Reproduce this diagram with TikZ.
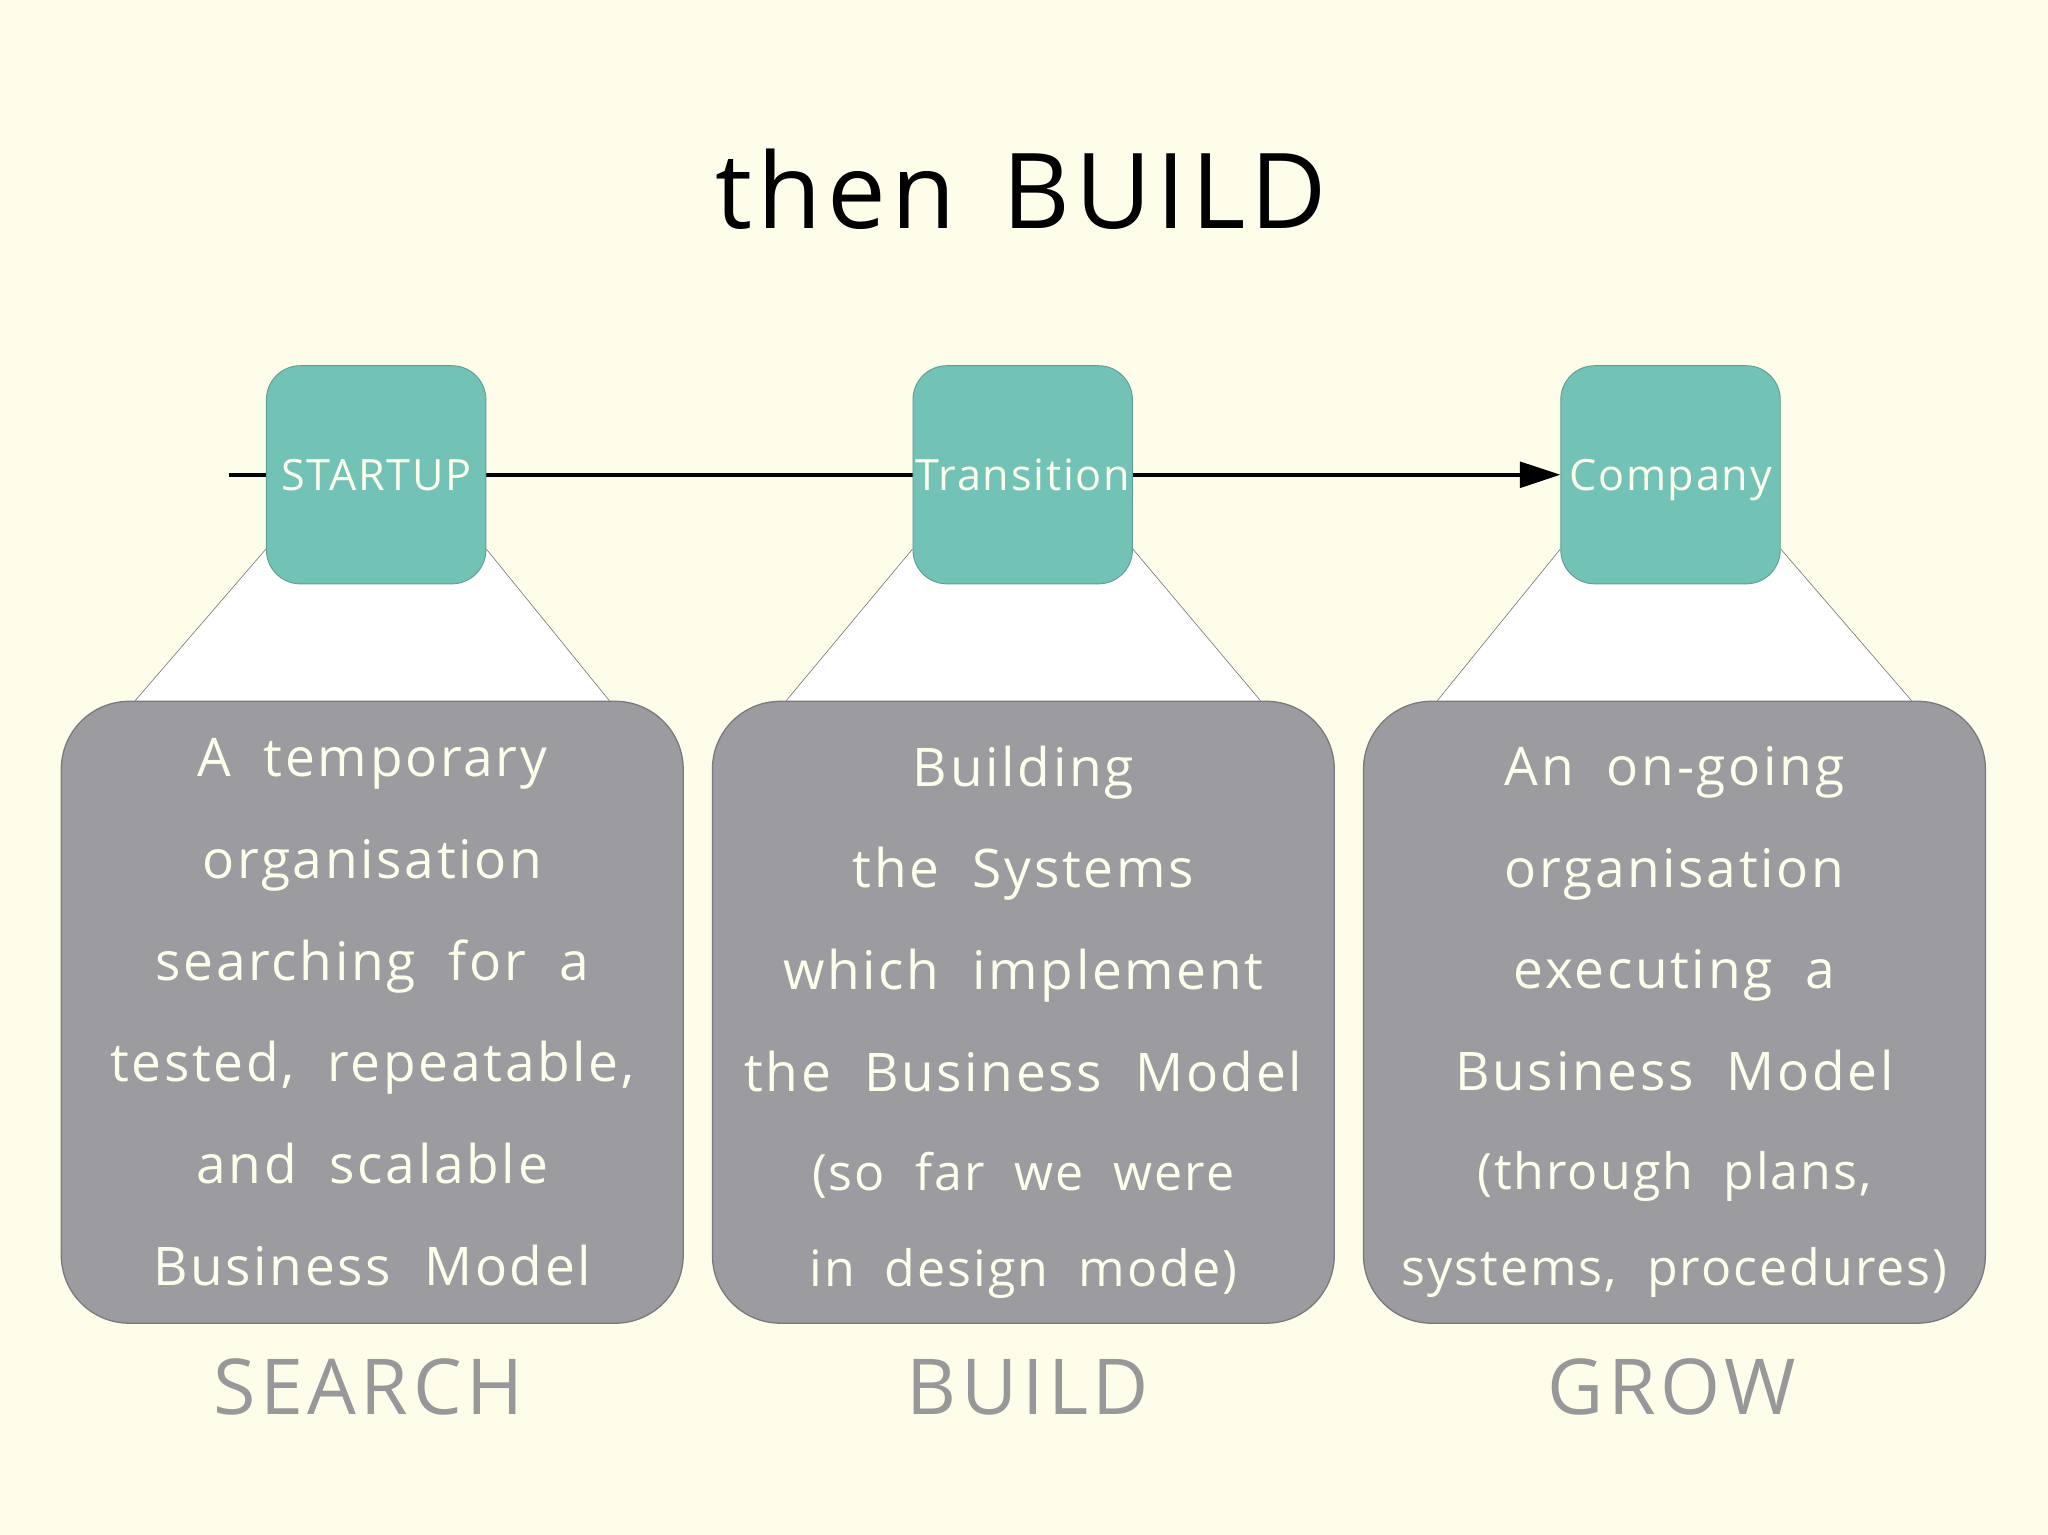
\documentclass[tikz,border=0pt]{standalone}
\usepackage{fontspec}
\setmainfont{Open Sans}[WordSpace=2.0]
\usetikzlibrary{arrows.meta}
\definecolor{bgc}{HTML}{FDFDE9}
\definecolor{tealc}{HTML}{72C3B6}
\definecolor{tealedge}{HTML}{5E9E94}
\definecolor{grayc}{HTML}{9B9BA0}
\definecolor{grayedge}{HTML}{7A7A7E}
\definecolor{txtc}{HTML}{FDFDEB}
\definecolor{lblc}{HTML}{98989B}
\pgfdeclarelayer{back}
\pgfsetlayers{back,main}
\newcommand{\smalline}[1]{{\fontsize{27.3}{55.4}\selectfont\addfontfeatures{LetterSpace=4}#1}}
\tikzset{
  phase/.style={draw=tealedge, line width=0.5pt, fill=tealc, rounded corners=0.65cm,
    minimum width=4.2cm, minimum height=4.175cm, inner sep=0pt, text=txtc,
    text height=16.8pt, text depth=0pt,
    font=\fontsize{23.5}{26}\selectfont\addfontfeatures{LetterSpace=4}},
  infobox/.style={draw=grayedge, line width=0.7pt, fill=grayc, rounded corners=1.3cm,
    minimum width=11.9cm, minimum height=11.9cm, inner sep=0pt},
  boxtext/.style={inner sep=0pt, text=txtc, align=center,
    font=\fontsize{29}{55.4}\selectfont\addfontfeatures{LetterSpace=5}},
  funnel/.style={fill=white, draw=none},
  funnelline/.style={draw=grayedge, line width=0.35pt},
  stagelbl/.style={text=lblc, font=\fontsize{42}{46}\selectfont\addfontfeatures{LetterSpace=6}},
  flow/.style={draw=black, line width=2pt, -{Triangle[length=22pt,width=14pt]}}
}
\begin{document}
\begin{tikzpicture}[x=0.025cm,y=-0.025cm]
\useasboundingbox (0,0) rectangle (1568,1175);
\node[font=\fontsize{57}{60}\selectfont\addfontfeatures{LetterSpace=5}] (title) at (782,145) {then\hspace{0.45em}BUILD};
\node[phase] (s1) at (288,363.5) {STARTUP};
\node[phase] (s2) at (783,363.5) {Transition};
\node[phase] (s3) at (1279,363.5) {Company};
\node[infobox] (g1) at (285,775) {};
\node[infobox] (g2) at (783.5,775) {};
\node[infobox] (g3) at (1282,775) {};
\node[boxtext] (t1) at (g1.center) {A temporary\\organisation\\searching for a\\tested, repeatable,\\and scalable\\Business Model};
\node[boxtext] (t2) at ([yshift=-0.19cm]g2.center) {Building\\the Systems\\which implement\\the Business Model\\[-1.5pt]\smalline{(so far we were}\\[-3pt]\smalline{in design mode)}};
\node[boxtext] (t3) at ([yshift=-0.19cm]g3.center) {An on-going\\organisation\\executing a\\Business Model\\[-1.5pt]\smalline{(through plans,}\\[-3pt]\smalline{systems, procedures)}};
\node[stagelbl] (l1) at (282,1062) {SEARCH};
\node[stagelbl] (l2) at (787,1062) {BUILD};
\node[stagelbl] (l3) at (1280,1062) {GROW};
\coordinate (start) at (175,363.5);
\begin{pgfonlayer}{back}
  \fill[bgc] (0,0) rectangle (1568,1175);
  \draw[flow] (start) -- (s3.west);
  \foreach \s/\g in {s1/g1,s2/g2,s3/g3}{
    \coordinate (\s a) at ([yshift=0.675cm]\s.south west);
    \coordinate (\s b) at ([xshift=1.425cm]\g.north west);
    \coordinate (\s c) at ([xshift=-1.425cm]\g.north east);
    \coordinate (\s d) at ([yshift=0.675cm]\s.south east);
    \fill[funnel] (\s a) -- (\s b) -- (\s c) -- (\s d) -- cycle;
    \draw[funnelline] (\s a) -- (\s b);
    \draw[funnelline] (\s d) -- (\s c);
  }
\end{pgfonlayer}
\end{tikzpicture}
\end{document}
